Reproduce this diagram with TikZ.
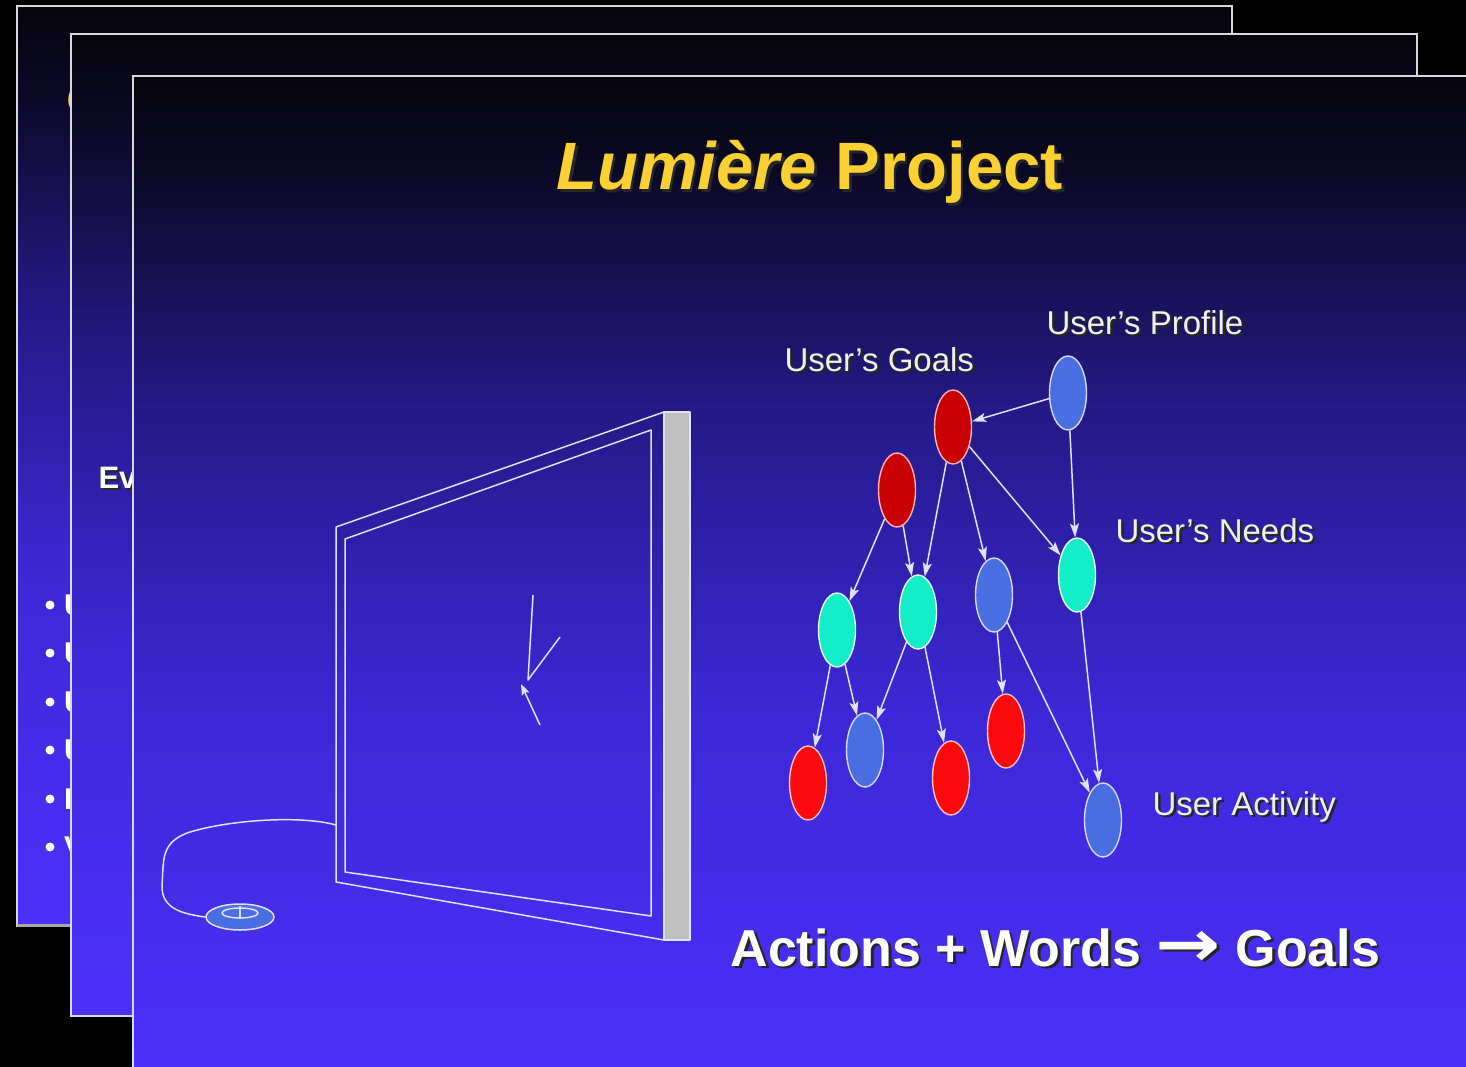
\documentclass[tikz,border=0pt]{standalone}
\usepackage{graphicx}
\usepackage{fontspec}
\setmainfont{Liberation Sans}
\newfontfamily\arrowfont{DejaVu Sans}
\usetikzlibrary{shapes.geometric, arrows.meta, positioning, calc}

% slide background, dark at the top and violet-blue at the bottom
\definecolor{bgA}{RGB}{76,48,248}
\definecolor{bgB}{RGB}{72,45,240}
\definecolor{bgC}{RGB}{60,40,215}
\definecolor{bgD}{RGB}{36,25,135}
\definecolor{bgE}{RGB}{28,19,98}
\definecolor{bgF}{RGB}{12,9,40}
\definecolor{bgG}{RGB}{5,5,12}
% the path is mapped onto 25bp..75bp of the shading
\pgfdeclareverticalshading{slidebg}{100bp}{color(0bp)=(bgA); color(25bp)=(bgA); color(31bp)=(bgB); color(43.5bp)=(bgC); color(58.5bp)=(bgD); color(63bp)=(bgE); color(70bp)=(bgF); color(75bp)=(bgG); color(100bp)=(bgG)}

\definecolor{framegray}{RGB}{215,215,220}
\definecolor{titlegold}{RGB}{250,208,50}
\definecolor{labelwhite}{RGB}{240,240,245}
\definecolor{linkwhite}{RGB}{225,225,255}
\definecolor{goalred}{RGB}{200,0,0}
\definecolor{actred}{RGB}{250,10,10}
\definecolor{needcyan}{RGB}{20,238,200}
\definecolor{stateblue}{RGB}{72,110,225}
\definecolor{barfill}{RGB}{192,192,192}

\tikzset{
    slide/.style={shading=slidebg, draw=framegray, line width=1.5pt},
    bnode/.style={ellipse, minimum width=37pt, minimum height=74pt, inner sep=0pt, line width=1.4pt},
    goal/.style={bnode, fill=goalred, draw=red!30!white},
    act/.style={bnode, fill=actred, draw=red!25!white},
    need/.style={bnode, fill=needcyan, draw=white!90!cyan},
    state/.style={bnode, fill=stateblue, draw=blue!15!white},
    link/.style={draw=linkwhite, line width=1.5pt, -{Stealth[length=14pt,width=9pt,inset=3pt]}},
    caption/.style={anchor=base west, text=labelwhite, font=\fontsize{33}{36}\selectfont},
    wire/.style={draw=linkwhite, line width=1.5pt, line join=round}
}

% text with a dark drop shadow behind it
\newcommand{\castlabel}[4]{%
    \node[#3, text=black!85] at ($#2+(2.5,2.5)$) {#4};
    \node[#3] (#1) at #2 {#4};
}

\begin{document}
\begin{tikzpicture}[x=1pt, y=-1pt]
    \useasboundingbox[fill=black] (0,0) rectangle (1466,1067);

    % back slide
    \draw[slide] (17,6) rectangle (1232,926);
    \draw[draw=gray!70, line width=3pt] (17,925) -- (1232,925);
    \node[anchor=base west, text=titlegold, font=\fontsize{46}{50}\selectfont\bfseries\itshape] at (63,114) {C};
    \foreach \y/\ch in {605/U, 653/U, 702/U, 750/U, 799/I, 847/V} {
        \fill[white] (50,\y) circle (4.5);
        \node[anchor=west, text=white, font=\fontsize{30}{32}\selectfont\bfseries, inner sep=0pt] at (64,\y) {\ch};
    }

    % middle slide
    \draw[slide] (71,34) rectangle (1417,1016);
    \castlabel{ev}{(95,488)}{anchor=base west, text=white, font=\fontsize{31}{34}\selectfont\bfseries}{Ev}

    % front slide
    \draw[slide] (133,76) rectangle (1500,1090);

    \castlabel{title}{(553,190)}{anchor=base west, text=titlegold, font=\fontsize{67}{72}\selectfont\bfseries}{\textit{Lumière} Project}

    % monitor
    \draw[wire] (336,527) -- (664,412) -- (664,940) -- (336,882) -- cycle;
    \draw[wire] (345,539) -- (651,430) -- (651,916) -- (345,872) -- cycle;
    \draw[wire, fill=barfill] (664,412) rectangle (690,940);

    % pointer on the screen
    \draw[wire] (533,595) -- (528,680) -- (560,637);
    \draw[wire, -{Stealth[length=11pt,width=8pt,inset=2pt]}] (540,725) -- (521,684);

    % mouse and its cable
    \node[ellipse, minimum width=68pt, minimum height=26pt, inner sep=0pt, fill=stateblue, draw=linkwhite, line width=1.5pt] (mouse) at (240,917) {};
    \draw[wire] (222,913) arc[start angle=180, end angle=-180, x radius=18, y radius=5];
    \draw[wire] (240,906) -- (240,919);
    \draw[wire] (336,825) .. controls (300,815) and (230,820) .. (190,832)
        .. controls (160,842) and (164,860) .. (162,885)
        .. controls (161,910) and (185,914) .. (mouse.west);

    % belief network
    \node[state] (profile) at (1068,393) {};
    \node[goal] (goalA) at (953,427) {};
    \node[goal] (goalB) at (897,490) {};
    \node[need] (needA) at (837,630) {};
    \node[need] (needB) at (918,612) {};
    \node[need] (needC) at (1077,575) {};
    \node[state] (stateA) at (994,595) {};
    \node[state] (stateB) at (865,750) {};
    \node[act] (actA) at (808,783) {};
    \node[act] (actB) at (951,778) {};
    \node[act] (actC) at (1006,731) {};
    \node[state] (activity) at (1103,820) {};

    \draw[link] (profile) -- (goalA);
    \draw[link] (profile) -- (needC);
    \draw[link] (goalA) -- (needB);
    \draw[link] (goalA) -- (stateA);
    \draw[link] (goalA) -- (needC);
    \draw[link] (goalB) -- (needA);
    \draw[link] (goalB) -- (needB);
    \draw[link] (needA) -- (actA);
    \draw[link] (needA) -- (stateB);
    \draw[link] (needB) -- (stateB);
    \draw[link] (needB) -- (actB);
    \draw[link] (stateA) -- (actC);
    \draw[link] (stateA) -- (activity);
    \draw[link] (needC) -- (activity);

    \castlabel{goalsText}{(781,371)}{caption}{User’s Goals}
    \castlabel{profileText}{(1043,334)}{caption}{User’s Profile}
    \castlabel{needsText}{(1112,542)}{caption}{User’s Needs}
    \castlabel{activityText}{(1149,815)}{caption}{User Activity}

    \castlabel{motto}{(727,966)}{anchor=base west, text=white, font=\fontsize{52}{56}\selectfont\bfseries}{Actions + Words {\arrowfont\bfseries\scalebox{1.5}[1.25]{→}} Goals}
\end{tikzpicture}
\end{document}
